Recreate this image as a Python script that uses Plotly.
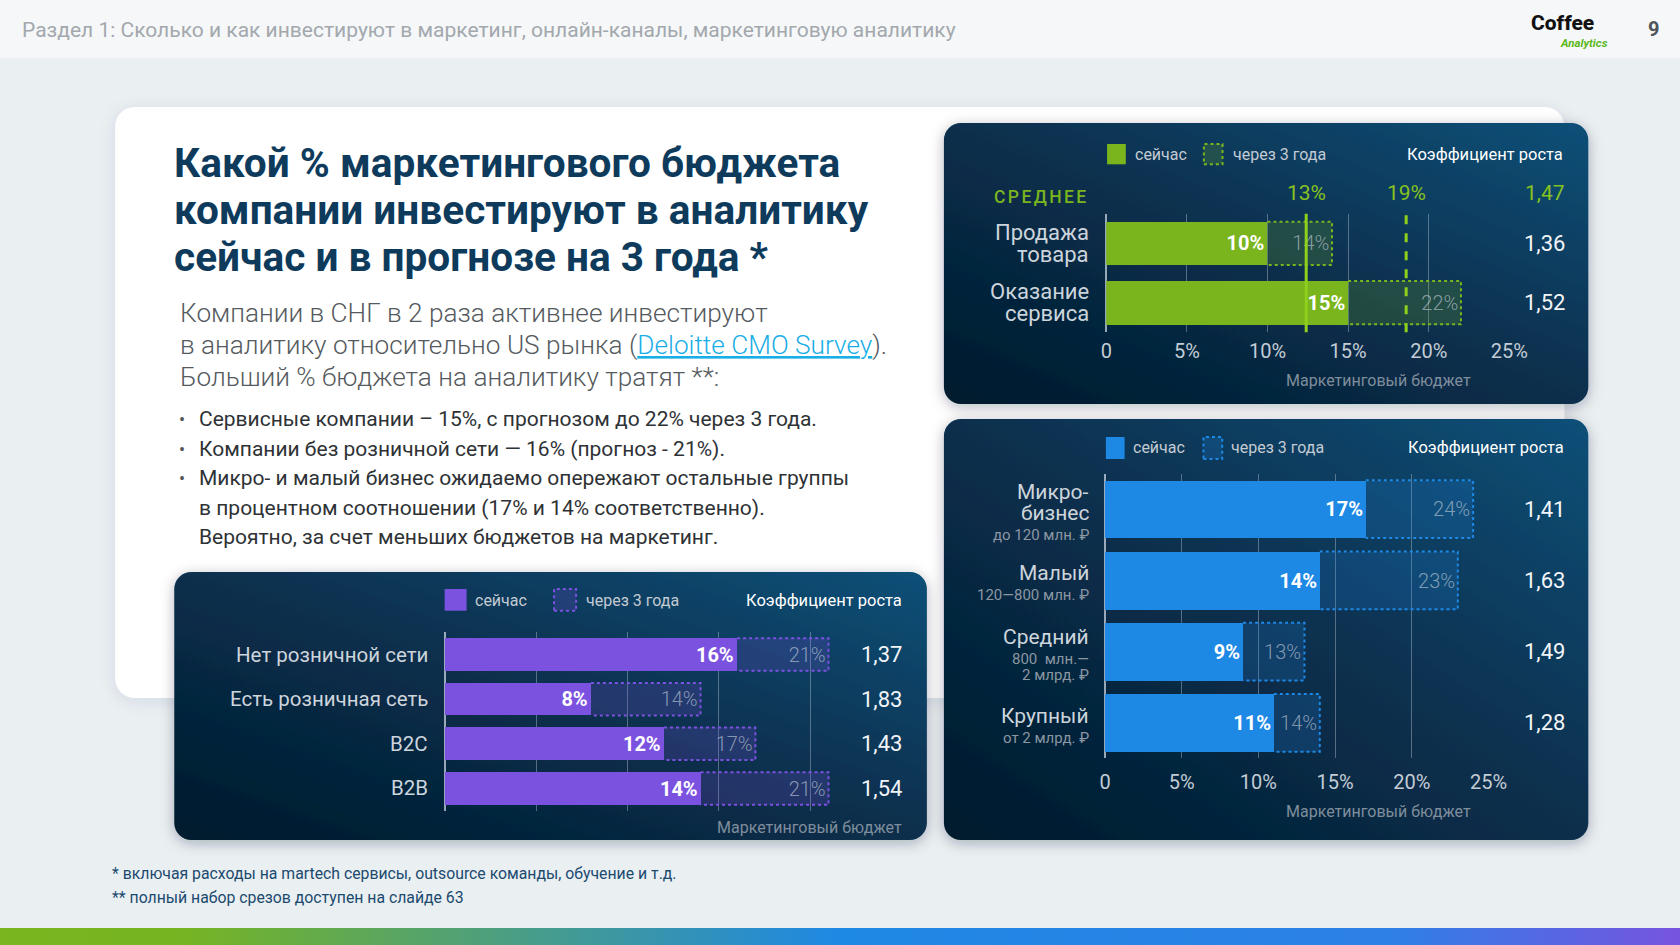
import base64
import plotly.graph_objects as go

W, H = 1680, 945
FONT = "Roboto, 'Noto Sans', sans-serif"
# horizontal calibration of the photographed page (measured offset / scale)
OX, SX = 7.1, 0.983

# ---------------- data ----------------
header_text = "Раздел 1: Сколько и как инвестируют в маркетинг, онлайн-каналы, маркетинговую аналитику"
page_number = "9"
title_lines = ["Какой % маркетингового бюджета",
               "компании инвестируют в аналитику",
               "сейчас и в прогнозе на 3 года *"]
subtitle_lines = ["Компании в СНГ в 2 раза активнее инвестируют",
                  "в аналитику относительно US рынка (<span style='color:#19aee6'><u>Deloitte CMO Survey</u></span>).",
                  "Больший % бюджета на аналитику тратят **:"]
bullet_marks = ["•", "•", "•", "", ""]
bullet_lines = ["Сервисные компании – 15%, с прогнозом до 22% через 3 года.",
                "Компании без розничной сети — 16% (прогноз - 21%).",
                "Микро- и малый бизнес ожидаемо опережают остальные группы",
                "в процентном соотношении (17% и 14% соответственно).",
                "Вероятно, за счет меньших бюджетов на маркетинг."]
footnotes = ["* включая расходы на martech сервисы, outsource команды, обучение и т.д.",
             "** полный набор срезов доступен на слайде 63"]

legend_now = "сейчас"
legend_future = "через 3 года"
coef_header = "Коэффициент роста"
axis_title = "Маркетинговый бюджет"
tick_values = [0, 5, 10, 15, 20, 25]
tick_labels = ["0", "5%", "10%", "15%", "20%", "25%"]

# chart 1: by business type
type_labels = [["Продажа", "товара"], ["Оказание", "сервиса"]]
type_now = [10, 15]
type_future = [14, 22]
type_coef = ["1,36", "1,52"]
avg_title = "СРЕДНЕЕ"
type_avg = [12.4, 18.6]          # average lines: now / in 3 years
type_avg_labels = ["13%", "19%"]
type_avg_coef = "1,47"

# chart 2: by company size
size_labels = [["Микро-", "бизнес"], ["Малый"], ["Средний"], ["Крупный"]]
size_sublabels = [["до 120 млн. ₽"], ["120—800 млн. ₽"], ["800  млн.—", "2 млрд. ₽"], ["от 2 млрд. ₽"]]
size_now = [17, 14, 9, 11]
size_future = [24, 23, 13, 14]
size_coef = ["1,41", "1,63", "1,49", "1,28"]

# chart 3: retail / B2B / B2C
retail_labels = ["Нет розничной сети", "Есть розничная сеть", "B2C", "B2B"]
retail_now = [16, 8, 12, 14]
retail_future = [21, 14, 17, 21]
retail_coef = ["1,37", "1,83", "1,43", "1,54"]

GREEN, BLUE, PURPLE = "#7ab51d", "#1e88e5", "#7b52e0"


def fx(px):
    return ((px - OX) / SX) / W


def fw(w):
    return (w / SX) / W


def fy(py):
    return 1 - py / H


def svg_uri(svg):
    return "data:image/svg+xml;base64," + base64.b64encode(svg.encode("utf-8")).decode()


annotations, shapes, images = [], [], []


def ann(text, x, y, size=16, color="#333", xanchor="left", yanchor="middle",
        xref="paper", yref="paper", weight=None, yshift=0, style=None, align="left"):
    f = dict(family=FONT, size=size, color=color)
    if weight:
        f["weight"] = weight
    if style:
        f["style"] = style
    annotations.append(dict(text=text, x=x, y=y, xref=xref, yref=yref, xanchor=xanchor,
                            yanchor=yanchor, showarrow=False, font=f, yshift=yshift,
                            align=align, borderpad=0))


def add_image(svg, x, y, w, h):
    images.append(dict(source=svg_uri(svg), xref="paper", yref="paper", x=fx(x), y=fy(y),
                       sizex=fw(w), sizey=h / H, xanchor="left", yanchor="top",
                       sizing="stretch", layer="below"))


# ---------------- background decoration ----------------
shapes.append(dict(type="rect", xref="paper", yref="paper", x0=-0.02, x1=1.02, y0=fy(58), y1=1,
                   fillcolor="#f5f7f9", line=dict(width=0), layer="below"))

m = 30
cx0, cy0, cx1, cy1 = 116, 107, 1562, 698
cw, ch = cx1 - cx0, cy1 - cy0
add_image(f"""<svg xmlns='http://www.w3.org/2000/svg' width='{cw+2*m}' height='{ch+2*m}'>
<defs><filter id='s' x='-10%' y='-10%' width='120%' height='120%'>
<feDropShadow dx='0' dy='3' stdDeviation='8' flood-color='#1b3b5b' flood-opacity='0.10'/></filter></defs>
<rect x='{m}' y='{m}' width='{cw}' height='{ch}' rx='20' fill='#ffffff' filter='url(#s)'/></svg>""",
          cx0 - m, cy0 - m, cw + 2 * m, ch + 2 * m)


def panel(x0, y0, x1, y1):
    w, h = x1 - x0, y1 - y0
    svg = f"""<svg xmlns='http://www.w3.org/2000/svg' width='{w+2*m}' height='{h+2*m}'>
<defs><linearGradient id='g' x1='0' y1='1' x2='1' y2='0'>
<stop offset='0' stop-color='#041a2c'/><stop offset='0.55' stop-color='#083150'/>
<stop offset='1' stop-color='#0f5078'/></linearGradient>
<filter id='s' x='-10%' y='-10%' width='120%' height='120%'>
<feDropShadow dx='0' dy='3' stdDeviation='7' flood-color='#0a1e30' flood-opacity='0.30'/></filter></defs>
<rect x='{m}' y='{m}' width='{w}' height='{h}' rx='17' fill='url(#g)' filter='url(#s)'/></svg>"""
    add_image(svg, x0 - m, y0 - m, w + 2 * m, h + 2 * m)


panel(943, 123, 1586, 404)
panel(943, 419, 1586, 840)
panel(175, 572, 926, 840)

add_image("""<svg xmlns='http://www.w3.org/2000/svg' width='1720' height='17'>
<defs><linearGradient id='b' x1='0' y1='0' x2='1' y2='0'>
<stop offset='0' stop-color='#7ab51d'/><stop offset='0.12' stop-color='#76b423'/>
<stop offset='0.5' stop-color='#1e88e5'/><stop offset='0.82' stop-color='#2e80e6'/>
<stop offset='1' stop-color='#7d50e0'/></linearGradient></defs>
<rect x='0' y='0' width='1720' height='17' fill='url(#b)'/></svg>""", -20, 928, 1720, 17)

# ---------------- slide text ----------------
ann(header_text, fx(22), fy(30), size=21, color="#a3a8ad")
ann(page_number, fx(1651), fy(29), size=20, color="#4f5458", xanchor="center", weight=700)
ann("Coffee", fx(1560), fy(23), size=21, color="#111111", xanchor="center", weight=800)
ann("Analytics", fx(1582), fy(43), size=11.5, color="#5cb820", xanchor="center", weight=700, style="italic")

for line, yy in zip(title_lines, [163.3, 210, 257]):
    ann(line, fx(174), fy(yy), size=40.6, color="#0e3b5c", weight=700)
for line, yy in zip(subtitle_lines, [313.3, 345, 376.7]):
    ann(line, fx(180), fy(yy), size=26.2, color="#555a5e", weight=300)
bullet_y = [419.3, 449.3, 478.3, 508.3, 536.7]
for mark, line, yy in zip(bullet_marks, bullet_lines, bullet_y):
    if mark:
        ann(mark, fx(183), fy(yy), size=18, color="#555", xanchor="center")
    ann(line, fx(199), fy(yy), size=21, color="#2e3235")
for line, yy in zip(footnotes, [873.3, 897.3]):
    ann(line, fx(112), fy(yy), size=15.8, color="#1b4a6e")

# ---------------- charts ----------------
charts = [
    dict(key="", x0=1105, x1=1507.2, ytop=213.8, ybot=332.3, now=type_now, fut=type_future,
         coef=type_coef, color=GREEN, fill="rgba(122,181,29,0.20)", width=0.73,
         ticks=tick_values, show_ticks=True, standoff=5, coef_x=1564,
         leg_y=154, sq=(1105.8, 1124.5), sq_f=(1202.4, 1221), sq_h=(144, 164.3),
         leg_tx=(1132.8, 1230), head_x=1562, title_xy=(1377, 380, "center")),
    dict(key="2", x0=1103.8, x1=1486.4, ytop=473.6, ybot=758.4, now=size_now, fut=size_future,
         coef=size_coef, color=BLUE, fill="rgba(30,136,229,0.20)", width=0.81,
         ticks=tick_values, show_ticks=True, standoff=10, coef_x=1564,
         leg_y=447.7, sq=(1104.6, 1123.3), sq_f=(1202, 1220.7), sq_h=(437, 459),
         leg_tx=(1130.7, 1228), head_x=1562.7, title_xy=(1377, 811.7, "center")),
    dict(key="3", x0=444.8, x1=900.8, ytop=632.2, ybot=810.8, now=retail_now, fut=retail_future,
         coef=retail_coef, color=PURPLE, fill="rgba(123,82,224,0.20)", width=0.73,
         ticks=tick_values[:-1], show_ticks=False, standoff=5, coef_x=902,
         leg_y=600, sq=(444.8, 466.7), sq_f=(554, 576), sq_h=(589, 610.7),
         leg_tx=(474.4, 584.4), head_x=902, title_xy=(902, 827.3, "right")),
]

fig = go.Figure()
layout_axes = {}
for c in charts:
    k = c["key"]
    xa, ya = "x" + k, "y" + k
    n = len(c["now"])
    idx = list(range(n))
    fig.add_trace(go.Bar(x=c["fut"], y=idx, orientation="h", width=c["width"], xaxis=xa, yaxis=ya,
                         marker=dict(color=c["fill"], line=dict(width=0)),
                         text=[f"{v}%" for v in c["fut"]], textposition="inside",
                         insidetextanchor="end",
                         textfont=dict(family=FONT, size=20, color="rgba(200,210,220,0.62)", weight=300),
                         hoverinfo="skip", showlegend=False))
    fig.add_trace(go.Bar(x=c["now"], y=idx, orientation="h", width=c["width"], xaxis=xa, yaxis=ya,
                         marker=dict(color=c["color"], line=dict(width=0)),
                         text=[f"{v}%" for v in c["now"]], textposition="inside",
                         insidetextanchor="end",
                         textfont=dict(family=FONT, size=20, color="#ffffff", weight=700),
                         hoverinfo="skip", showlegend=False))
    hw = c["width"] / 2
    for i, (a, b) in enumerate(zip(c["now"], c["fut"])):
        shapes.append(dict(type="path", xref=xa, yref=ya,
                           path=f"M{a},{i - hw} L{b},{i - hw} L{b},{i + hw} L{a},{i + hw}",
                           line=dict(color=c["color"], width=2, dash="dot"), layer="above"))
    layout_axes["xaxis" + k] = dict(
        domain=[fx(c["x0"]), fx(c["x1"])], range=[0, 25], anchor=ya,
        tickvals=c["ticks"], ticktext=tick_labels[:len(c["ticks"])],
        showticklabels=c["show_ticks"], ticks="", ticklabelstandoff=c["standoff"],
        tickfont=dict(family=FONT, size=20, color="#c3ccd5"),
        showgrid=True, gridcolor="rgba(175,190,205,0.45)", gridwidth=1,
        zeroline=True, zerolinecolor="rgba(200,212,224,0.75)", zerolinewidth=1.5,
        showline=False, fixedrange=True)
    layout_axes["yaxis" + k] = dict(domain=[fy(c["ybot"]), fy(c["ytop"])], range=[n - 0.5, -0.5],
                                    anchor=xa, visible=False, fixedrange=True)
    for i, v in enumerate(c["coef"]):
        ann(v, fx(c["coef_x"]), i, size=22, color="#f2f5f8", xanchor="right", yref=ya)
    shapes.append(dict(type="rect", xref="paper", yref="paper", x0=fx(c["sq"][0]), x1=fx(c["sq"][1]),
                       y0=fy(c["sq_h"][1]), y1=fy(c["sq_h"][0]), fillcolor=c["color"],
                       line=dict(width=0)))
    shapes.append(dict(type="rect", xref="paper", yref="paper", x0=fx(c["sq_f"][0]), x1=fx(c["sq_f"][1]),
                       y0=fy(c["sq_h"][1]), y1=fy(c["sq_h"][0]), fillcolor=c["fill"],
                       line=dict(color=c["color"], width=2, dash="dot")))
    ann(legend_now, fx(c["leg_tx"][0]), fy(c["leg_y"]), size=16, color="#c3cbd3")
    ann(legend_future, fx(c["leg_tx"][1]), fy(c["leg_y"]), size=16, color="#c3cbd3")
    ann(coef_header, fx(c["head_x"]), fy(c["leg_y"]), size=16.5, color="#ffffff", xanchor="right")
    tx, ty, anc = c["title_xy"]
    ann(axis_title, fx(tx), fy(ty), size=16, color="#7f8e9c", xanchor=anc)

# chart 1 extras
for i, lines in enumerate(type_labels):
    for j, line in enumerate(lines):
        off = (j - (len(lines) - 1) / 2) * 22.6
        ann(line, fx(1089), i, size=22, color="#cdd5dc", xanchor="right", yref="y", yshift=-off)
ann(f"<span style='letter-spacing:2.4px'>{avg_title}</span>", fx(1089), fy(196.7), size=17.5,
    color=GREEN, xanchor="right", weight=500)
for v, lab, dash in zip(type_avg, type_avg_labels, ["solid", "dash"]):
    shapes.append(dict(type="line", xref="x", yref="y domain", x0=v, x1=v, y0=0, y1=1,
                       line=dict(color="#8fd01c", width=3, dash=dash), layer="above"))
    ann(lab, v, fy(193.3), size=21, color="#86c21f", xanchor="center", xref="x")
ann(type_avg_coef, fx(1564), fy(193.3), size=21, color="#86c21f", xanchor="right")

# chart 2 category labels (name + revenue range)
for i, (main, sub) in enumerate(zip(size_labels, size_sublabels)):
    ys = []
    pos = 0
    for j in range(len(main)):
        ys.append(("m", main[j], pos))
        pos += 21
    pos += 1
    for j in range(len(sub)):
        ys.append(("s", sub[j], pos))
        pos += 16
    total = ys[-1][2]
    for kind, text, p in ys:
        off = p - total / 2 + 4
        if kind == "m":
            ann(text, fx(1088.4), i, size=21, color="#cdd5dc", xanchor="right", yref="y2", yshift=-off)
        else:
            ann(text, fx(1088.4), i, size=15, color="#8b97a3", xanchor="right", yref="y2", yshift=-off)

# chart 3 category labels
for i, lab in enumerate(retail_labels):
    ann(lab, fx(429.3), i, size=20.5, color="#cdd5dc", xanchor="right", yref="y3")

fig.update_layout(
    width=W, height=H, margin=dict(l=0, r=0, t=0, b=0), autosize=False,
    paper_bgcolor="#eaeff2", plot_bgcolor="rgba(0,0,0,0)",
    barmode="overlay", bargap=0, showlegend=False,
    annotations=annotations, shapes=shapes, images=images,
    font=dict(family=FONT),
    **layout_axes,
)

post = ("document.documentElement.style.margin='0';document.documentElement.style.overflow='hidden';"
        "document.documentElement.style.background='#eaeff2';"
        "document.body.style.margin='0';document.body.style.overflow='hidden';"
        "document.body.style.background='#eaeff2';"
        "var gd=document.getElementById('{plot_id}');gd.style.position='absolute';"
        "gd.style.left='0px';gd.style.top='0px';")
fig.write_html("out.html", config={"displayModeBar": False, "responsive": False},
               post_script=post)
